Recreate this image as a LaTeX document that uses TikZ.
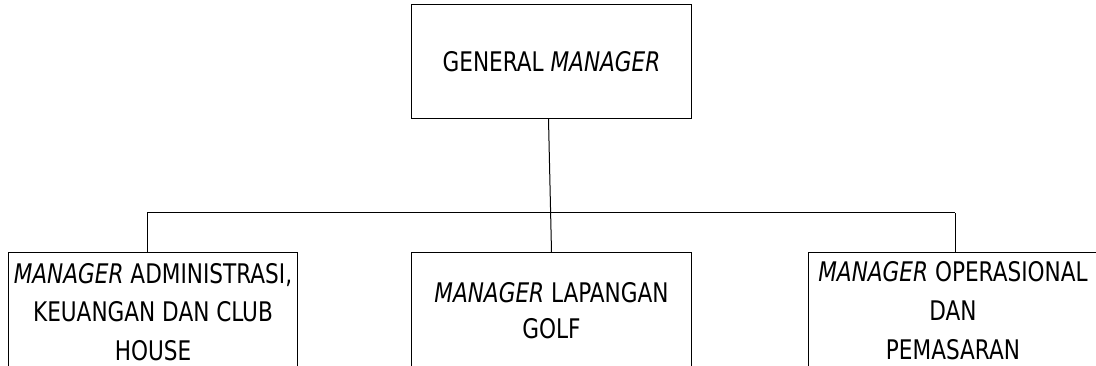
\documentclass[tikz,border=0pt]{standalone}
\usepackage{fontspec}
\setmainfont[FakeStretch=0.89]{DejaVu Sans Condensed}
\usetikzlibrary{positioning}
\begin{document}
\begin{tikzpicture}[x=1pt,y=-1pt,
    unit/.style={draw,line width=1pt,anchor=north west,inner sep=0pt},
    caption/.style={align=center,inner sep=0pt,anchor=north,
        font=\fontsize{27}{39}\selectfont}]
    \useasboundingbox (0,0) rectangle (1096,366);
    \clip (0,0) rectangle (1096,366);

    \node[unit,minimum width=280pt,minimum height=114pt,
        font=\fontsize{27}{39}\selectfont] (gm) at (411,4)
        {GENERAL \textit{MANAGER}};

    \node[unit,minimum width=289pt,minimum height=160pt] (adm) at (8,252) {};
    \node[unit,minimum width=280pt,minimum height=160pt] (golf) at (411,252) {};
    \node[unit,minimum width=289pt,minimum height=160pt] (ops) at (808,252) {};

    \node[caption,below=11pt of adm.north,font=\fontsize{27}{38.5}\selectfont] (admtext)
        {\textit{MANAGER} ADMINISTRASI,\\KEUANGAN DAN CLUB\\HOUSE};
    \node[caption,below=30pt of golf.north,font=\fontsize{27}{36}\selectfont] (golftext)
        {\textit{MANAGER} LAPANGAN\\GOLF};
    \node[caption,below=9pt of ops.north,font=\fontsize{27}{39}\selectfont] (opstext)
        {\textit{MANAGER} OPERASIONAL\\DAN\\PEMASARAN};

    \coordinate (barL) at (147,213);
    \coordinate (barR) at (955,213);
    \draw[line width=1pt] ([xshift=-3pt]gm.south) -- (golf.north);
    \draw[line width=1pt] (barL) -- (barR);
    \draw[line width=1pt] (barL) -- (barL |- adm.north);
    \draw[line width=1pt] (barR) -- (barR |- ops.north);
\end{tikzpicture}
\end{document}
